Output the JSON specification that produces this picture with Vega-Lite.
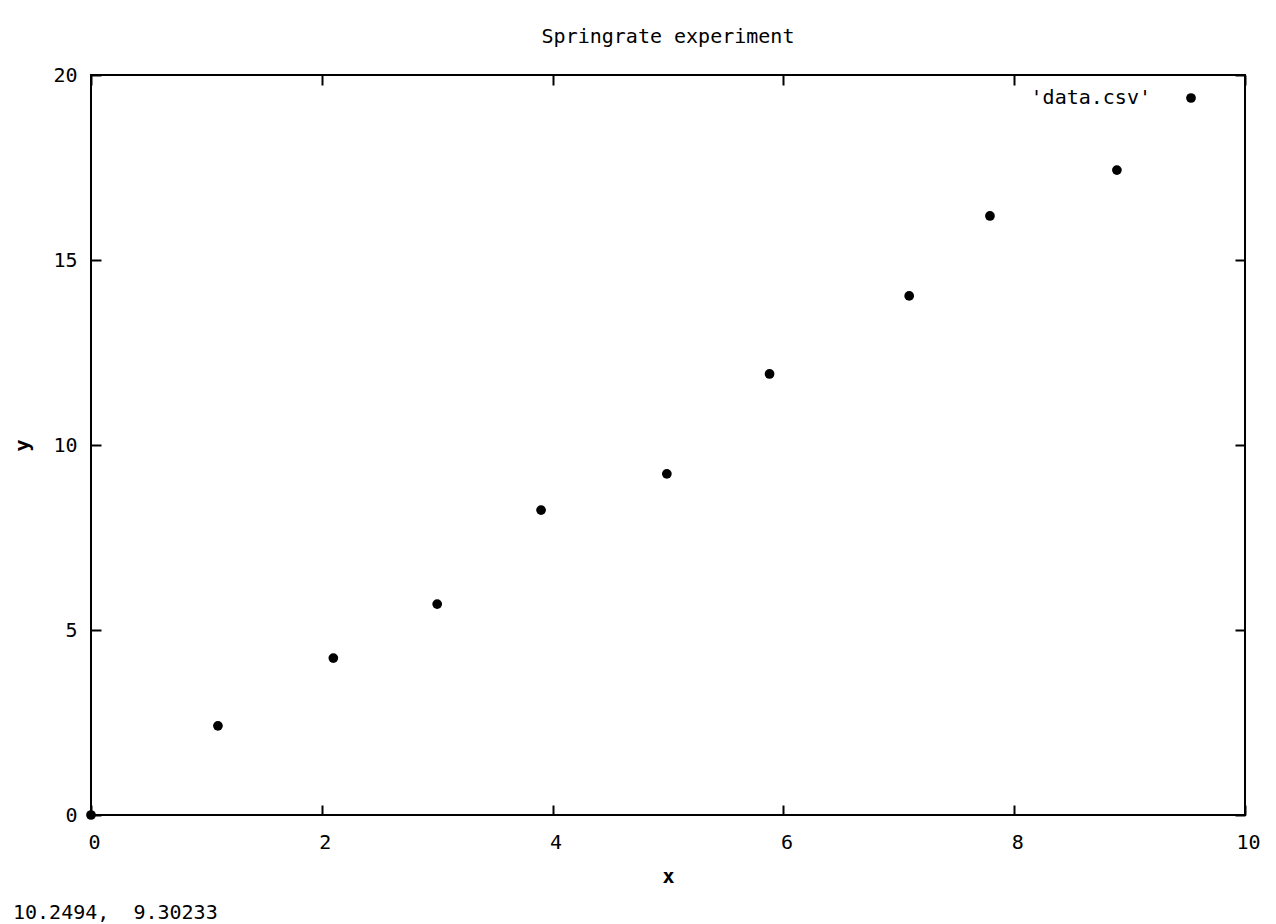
{
  "$schema": "https://vega.github.io/schema/vega-lite/v6.json",
  "autosize": "none",
  "width": 1154,
  "height": 740,
  "padding": {"left": 91, "top": 75, "right": 31, "bottom": 109},
  "background": "white",
  "title": {"text": "Springrate experiment", "font": "DejaVu Sans Mono", "fontSize": 20, "fontWeight": "normal", "color": "black", "offset": 18, "anchor": "middle"},
  "config": {
    "view": {"stroke": "black", "strokeWidth": 2},
    "axis": {"grid": false, "domain": false, "tickColor": "black", "tickWidth": 2, "tickSize": -10, "labelFlush": false, "labelFont": "DejaVu Sans Mono", "labelFontSize": 20, "labelColor": "black", "titleFont": "DejaVu Sans Mono", "titleFontSize": 20, "titleFontWeight": "bold", "titleColor": "black"}
  },
  "data": {"values": [
    {"x": 0, "y": 0, "series": "'data.csv'"},
    {"x": 1.1, "y": 2.41, "series": "'data.csv'"},
    {"x": 2.1, "y": 4.24, "series": "'data.csv'"},
    {"x": 3.0, "y": 5.7, "series": "'data.csv'"},
    {"x": 3.9, "y": 8.24, "series": "'data.csv'"},
    {"x": 4.99, "y": 9.22, "series": "'data.csv'"},
    {"x": 5.88, "y": 11.92, "series": "'data.csv'"},
    {"x": 7.09, "y": 14.03, "series": "'data.csv'"},
    {"x": 7.79, "y": 16.19, "series": "'data.csv'"},
    {"x": 8.89, "y": 17.43, "series": "'data.csv'"}
  ]},
  "layer": [
    {
      "mark": {"type": "point", "shape": "circle", "filled": true, "size": 95, "opacity": 1},
      "encoding": {
        "x": {"field": "x", "type": "quantitative", "scale": {"domain": [0, 10], "nice": false, "zero": false}, "axis": {"orient": "bottom", "values": [0, 2, 4, 6, 8, 10], "labelPadding": 27, "labelOffset": 3, "title": "x", "titlePadding": 14}},
        "y": {"field": "y", "type": "quantitative", "scale": {"domain": [0, 20], "nice": false, "zero": false}, "axis": {"orient": "left", "values": [0, 5, 10, 15, 20], "labelPadding": 24, "title": "y", "titlePadding": 20}},
        "color": {"field": "series", "type": "nominal", "scale": {"range": ["black"]}, "legend": {"orient": "none", "legendX": 1090, "legendY": 13, "title": null, "padding": 0, "symbolType": "circle", "symbolSize": 95, "symbolFillColor": "black", "symbolStrokeWidth": 0, "labelAlign": "right", "labelOffset": -50, "labelFont": "DejaVu Sans Mono", "labelFontSize": 20, "labelColor": "black"}}
      }
    },
    {
      "data": {"values": [{"px": 0, "py": 0, "label": "10.2494,\u00a0 9.30233"}]},
      "mark": {"type": "text", "align": "left", "baseline": "alphabetic", "dx": -78, "dy": 104, "font": "DejaVu Sans Mono", "fontSize": 20, "color": "black"},
      "encoding": {
        "x": {"field": "px", "type": "quantitative", "axis": {"orient": "top", "values": [0, 2, 4, 6, 8, 10], "labels": false, "title": null}},
        "y": {"field": "py", "type": "quantitative", "axis": {"orient": "right", "values": [0, 5, 10, 15, 20], "labels": false, "title": null}},
        "text": {"field": "label"}
      }
    }
  ],
  "resolve": {"axis": {"x": "independent", "y": "independent"}}
}
